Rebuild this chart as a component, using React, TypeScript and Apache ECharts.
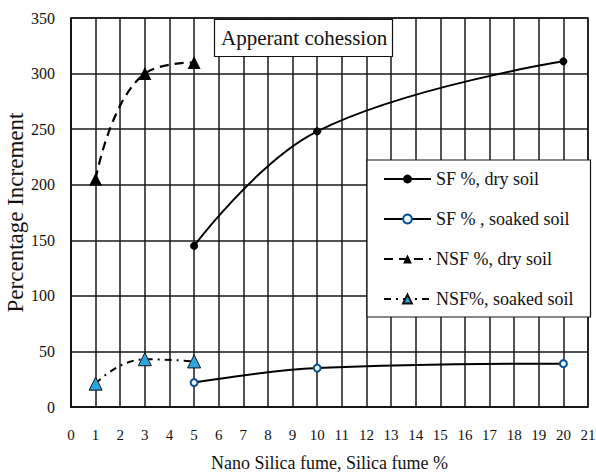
import React, { useEffect, useRef } from "react";
import * as echarts from "echarts";

const xSF = [5, 10, 20];
const sfDry = [145, 248, 311];
const sfSoaked = [22, 35, 39];
const xNSF = [1, 3, 5];
const nsfDry = [205, 300, 310];
const nsfSoaked = [21, 43, 41];

const seriesNames = ["SF %, dry soil", "SF % , soaked soil", "NSF %, dry soil", "NSF%, soaked soil"];
const chartTitle = "Apperant cohession";
const xName = "Nano Silica fume, Silica fume %";
const yName = "Percentage Increment";

const FONT = "Liberation Serif";

function pairs(xs: number[], ys: number[]) {
  return xs.map((x, i) => [x, ys[i]]);
}

export default function App() {
  const ref = useRef<HTMLDivElement>(null);
  useEffect(() => {
    if (!ref.current) return;
    const chart = echarts.init(ref.current, null, { renderer: "svg" });
    chart.setOption({
      animation: false,
      backgroundColor: "#fff",
      textStyle: { fontFamily: FONT, color: "#111" },
      title: {
        text: chartTitle,
        left: 214,
        top: 19,
        padding: [7, 6, 7, 7],
        borderColor: "#111",
        borderWidth: 1.2,
        backgroundColor: "#fff",
        textStyle: { fontFamily: FONT, fontSize: 21, fontWeight: "normal", color: "#111", lineHeight: 24 },
        z: 10,
      },
      legend: {
        orient: "vertical",
        left: 367,
        top: 160,
        padding: [10, 17, 9, 16],
        itemWidth: 47,
        itemHeight: 11,
        itemGap: 22,
        backgroundColor: "#fff",
        borderColor: "#111",
        borderWidth: 1.2,
        textStyle: { fontFamily: FONT, fontSize: 18, color: "#111", lineHeight: 18 },
        data: seriesNames,
        z: 10,
      },
      grid: {
        left: 71,
        right: 8,
        top: 18,
        bottom: 67,
        containLabel: false,
        outerBoundsMode: "none",
        show: true,
        borderColor: "#111",
        borderWidth: 1.5,
        backgroundColor: "#fff",
      },
      xAxis: {
        type: "value",
        min: 0,
        max: 21,
        interval: 1,
        name: xName,
        nameLocation: "middle",
        nameGap: 47,
        nameMoveOverlap: false,
        nameTextStyle: { fontFamily: FONT, fontSize: 18, color: "#111" },
        axisLine: { show: true, lineStyle: { color: "#111", width: 1.5 } },
        axisTick: { show: false },
        axisLabel: { fontFamily: FONT, fontSize: 15, color: "#111", margin: 20 },
        splitLine: { show: true, lineStyle: { color: "#1a1a1a", width: 1.5 } },
      },
      yAxis: {
        type: "value",
        min: 0,
        max: 350,
        interval: 50,
        name: yName,
        nameLocation: "middle",
        nameGap: 44,
        nameMoveOverlap: false,
        nameTextStyle: { fontFamily: FONT, fontSize: 23, color: "#111" },
        axisLine: { show: true, lineStyle: { color: "#111", width: 1.5 } },
        axisTick: { show: false },
        axisLabel: { fontFamily: FONT, fontSize: 16, color: "#111", margin: 16 },
        splitLine: { show: true, lineStyle: { color: "#1a1a1a", width: 1.5 } },
      },
      series: [
        {
          name: seriesNames[0],
          type: "line",
          data: pairs(xSF, sfDry),
          smooth: 0.4,
          symbol: "circle",
          symbolSize: 8,
          itemStyle: { color: "#000" },
          lineStyle: { color: "#000", width: 2 },
          z: 3,
        },
        {
          name: seriesNames[1],
          type: "line",
          data: pairs(xSF, sfSoaked),
          smooth: 0.4,
          symbol: "circle",
          symbolSize: 7,
          itemStyle: { color: "#e8f6ff", borderColor: "#0b4f8f", borderWidth: 2 },
          lineStyle: { color: "#000", width: 2 },
          z: 3,
        },
        {
          name: seriesNames[2],
          type: "line",
          data: pairs(xNSF, nsfDry),
          smooth: 0.5,
          symbol: "triangle",
          symbolSize: 13,
          itemStyle: { color: "#000" },
          lineStyle: { color: "#000", width: 2.2, type: [9, 6] },
          z: 3,
        },
        {
          name: seriesNames[3],
          type: "line",
          data: pairs(xNSF, nsfSoaked),
          smooth: 0.5,
          symbol: "triangle",
          symbolSize: 13,
          itemStyle: { color: "#29a6de", borderColor: "#111", borderWidth: 1 },
          lineStyle: { color: "#000", width: 2, type: [7, 5, 2, 5] },
          z: 3,
        },
      ],
    });
    return () => chart.dispose();
  }, []);
  return (
    <div
      ref={ref}
      style={{ position: "fixed", left: 0, top: 0, width: 596, height: 474, background: "#fff" }}
    />
  );
}
